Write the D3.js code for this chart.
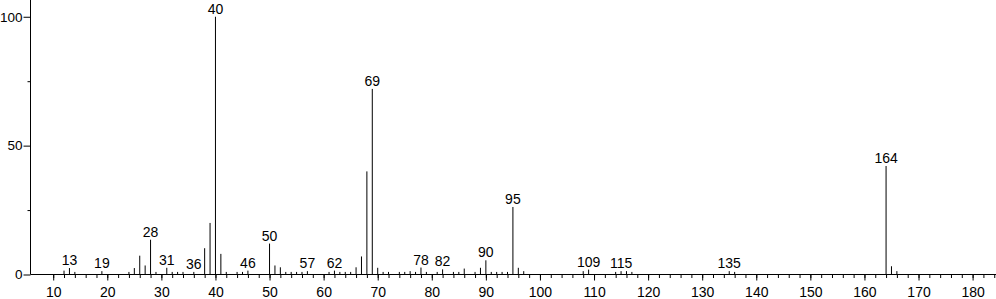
<html lang="en">
<head>
    <meta charset="UTF-8"/>
    <title>Mass spectrum</title>
    <style>
        body { margin: 0; background: #fff; }
        svg { display: block; }
        text { font-family: "Liberation Sans", Arial, sans-serif; font-size: 14px; fill: #000; }
        .peak { stroke: #000; stroke-width: 1; }
        .axis line, .axis path { stroke: #000; }
    </style>
</head>
<body>
<svg width="996" height="299"></svg>
<script src="https://d3js.org/d3.v7.min.js"></script>
<script>
    // m/z values and relative intensities
    const mz = [12, 13, 14, 19, 24, 25, 26, 27, 28, 29, 31, 32, 33, 34, 36, 38, 39, 40, 41, 42,
        44, 45, 46, 50, 51, 52, 53, 54, 55, 56, 57, 61, 62, 63, 64, 65, 66, 67, 68, 69,
        70, 71, 72, 74, 75, 76, 77, 78, 79, 81, 82, 84, 85, 86, 88, 89, 90, 91, 92, 93,
        94, 95, 96, 97, 108, 109, 114, 115, 116, 117, 135, 136, 164, 165, 166];
    const intensity = [1.5, 2.5, 1, 1.3, 1, 2.5, 7.3, 3.5, 13.5, 1, 2.6, 1, 1, 1, 1, 10.2, 20, 100, 8, 1,
        1, 1, 1.5, 12, 3.5, 2.8, 1, 1, 1, 1, 1.3, 1, 1.5, 1, 1, 1, 2.8, 7, 40, 72,
        2.6, 1, 1, 1, 1, 1.3, 1, 2.7, 1, 1, 2, 1, 1, 2.3, 1, 2.6, 5.5, 1, 1, 1,
        1, 26.2, 2.6, 1.3, 1.3, 1.9, 1, 1.3, 1.3, 1, 1.3, 1, 42.1, 3.2, 1.3];
    const labelled = [13, 19, 28, 31, 36, 40, 46, 50, 57, 62, 69, 78, 82, 90, 95, 109, 115, 135, 164];
    const xMajor = d3.range(10, 181, 10);
    const xMinor = d3.range(10, 185, 2);
    const yMajor = [0, 50, 100];
    const yMinor = [25, 75];

    const peaks = mz.map((m, i) => ({m: m, v: intensity[i]}));

    const svg = d3.select("svg");
    const x = d3.scaleLinear().domain([5.8, 184.4]).range([30.5, 996.4]);
    const y = d3.scaleLinear().domain([0, 106.5]).range([274.5, 0]);

    // peaks
    svg.append("g")
        .selectAll("line")
        .data(peaks)
        .join("line")
        .attr("class", "peak")
        .attr("x1", d => x(d.m)).attr("x2", d => x(d.m))
        .attr("y1", y(0)).attr("y2", d => y(d.v));

    // peak labels
    svg.append("g")
        .selectAll("text")
        .data(peaks.filter(d => labelled.includes(d.m)))
        .join("text")
        .attr("x", d => x(d.m))
        .attr("y", d => y(d.v) - 3)
        .attr("text-anchor", "middle")
        .text(d => d.m);

    // x axis
    const xAxisG = svg.append("g").attr("class", "axis")
        .attr("transform", `translate(0,${y(0)})`);
    xAxisG.append("g")
        .call(d3.axisBottom(x).tickValues(xMinor).tickSize(3.5).tickFormat(""))
        .call(g => g.select(".domain").remove());
    xAxisG.append("g")
        .call(d3.axisBottom(x).tickValues(xMajor).tickSize(6).tickPadding(6.5).tickFormat(d3.format("d")))
        .call(g => g.select(".domain").remove())
        .call(g => g.selectAll("text").attr("fill", "#000").style("font-size", "14px"));
    xAxisG.append("line")
        .attr("x1", x.range()[0]).attr("x2", 996)
        .attr("stroke", "#000");

    // y axis
    const yAxisG = svg.append("g").attr("class", "axis")
        .attr("transform", `translate(${x.range()[0]},0)`);
    yAxisG.append("g")
        .call(d3.axisLeft(y).tickValues(yMinor).tickSize(3).tickFormat(""))
        .call(g => g.select(".domain").remove());
    yAxisG.append("g")
        .call(d3.axisLeft(y).tickValues(yMajor).tickSize(7).tickPadding(1).tickFormat(d3.format("d")))
        .call(g => g.select(".domain").remove())
        .call(g => g.selectAll("text").attr("fill", "#000").style("font-size", "13.5px"));
    yAxisG.append("line")
        .attr("y1", 0).attr("y2", y(0))
        .attr("stroke", "#000");
</script>
</body>
</html>
